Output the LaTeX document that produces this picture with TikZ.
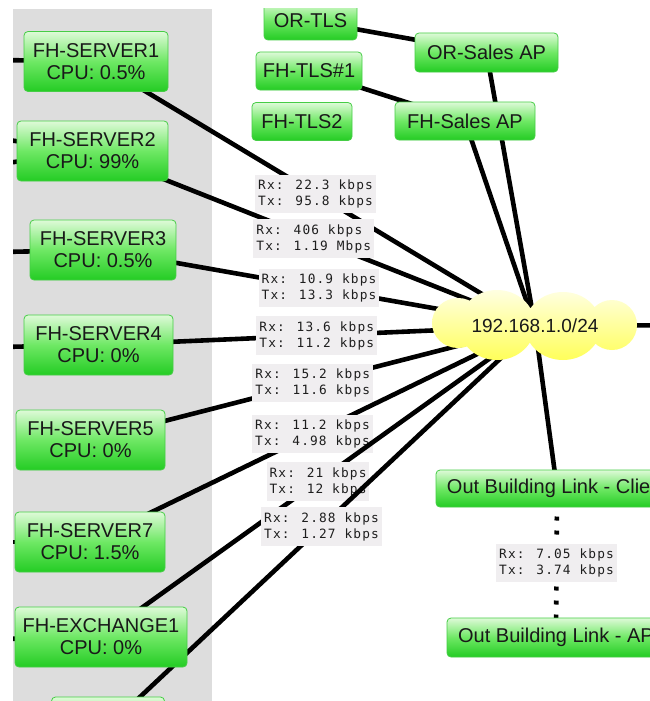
\documentclass[tikz,border=0pt]{standalone}
\usepackage{fontspec}
\setmainfont{Liberation Sans}
\newfontfamily\lblfont[LetterSpace=9]{DejaVu Sans Mono}
\usetikzlibrary{calc}
\pgfdeclarelayer{panel}
\pgfdeclarelayer{edges}
\pgfsetlayers{panel,edges,main}
\definecolor{gtop}{RGB}{222,250,216}
\definecolor{gmid}{RGB}{110,232,100}
\definecolor{gbot}{RGB}{36,204,36}
\definecolor{gedge}{RGB}{70,205,70}
\definecolor{panelgray}{RGB}{221,221,221}
\definecolor{lblbg}{RGB}{240,238,240}
\definecolor{lbltext}{RGB}{30,30,30}
\definecolor{ytop}{RGB}{255,255,235}
\definecolor{ybot}{RGB}{255,255,80}
\definecolor{ink}{RGB}{25,25,25}
\tikzset{
  box/.style={rounded corners=4pt, draw=gedge, line width=0.8pt,
    top color=gtop, bottom color=gbot, middle color=gmid, text=ink,
    font=\fontsize{20}{22}\selectfont, align=center, inner xsep=0pt, inner ysep=0pt},
  srv/.style={box, minimum height=60pt},
  tls/.style={box, minimum height=38pt},
  lbl/.style={fill=lblbg, text=lbltext, font=\lblfont\fontsize{12.8}{16}\selectfont,
    align=left, inner xsep=3pt, inner ysep=5pt},
  link/.style={line width=4.6pt, black},
}
\begin{document}
\begin{tikzpicture}[x=1pt,y=-1pt]
\useasboundingbox (0,0) rectangle (650,701);
\begin{pgfonlayer}{panel}
  \fill[white] (0,0) rectangle (650,701);
  \fill[panelgray] (13,9) rectangle (212,701);
\end{pgfonlayer}

\begin{scope}
\clip (13,9) rectangle (650,701);
% nodes
\node[srv, minimum width=144pt] (s1) at (96,61.5) {FH-SERVER1\\CPU: 0.5\%};
\node[srv, minimum width=151pt] (s2) at (92.5,151) {FH-SERVER2\\CPU: 99\%};
\node[srv, minimum width=146pt] (s3) at (103,250) {FH-SERVER3\\CPU: 0.5\%};
\node[srv, minimum width=149pt] (s4) at (98.5,345) {FH-SERVER4\\CPU: 0\%};
\node[srv, minimum width=149pt] (s5) at (90.5,440) {FH-SERVER5\\CPU: 0\%};
\node[srv, minimum width=150pt] (s7) at (90,542) {FH-SERVER7\\CPU: 1.5\%};
\node[srv, minimum width=172pt] (ex1) at (101,637) {FH-EXCHANGE1\\CPU: 0\%};
\node[srv, minimum width=113pt] (s8) at (108,727) {};

\node[tls, minimum width=93pt] (ortls) at (310.5,21) {OR-TLS};
\node[tls, minimum width=106pt] (fhtls1) at (309,71) {FH-TLS\#1};
\node[tls, minimum width=100pt] (fhtls2) at (302,121.5) {FH-TLS2};
\node[tls, minimum width=143pt, minimum height=39pt] (orsales) at (486.5,52.5) {OR-Sales AP};
\node[tls, minimum width=140pt] (fhsales) at (465,121) {FH-Sales AP};
\node[tls, minimum width=242pt, minimum height=37pt] (client) at (557,488.5) {Out Building Link - Client};
\node[tls, minimum width=218pt, minimum height=39pt] (ap) at (556,637.5) {Out Building Link - AP};

% cloud
\begin{scope}
\clip (458,323) ellipse [x radius=26pt, y radius=25pt]
      (497,325) ellipse [x radius=38pt, y radius=35pt]
      (563,326) ellipse [x radius=38pt, y radius=34pt]
      (612,325) ellipse [x radius=25pt, y radius=25pt];
\shade[top color=ytop, bottom color=ybot] (425,285) rectangle (645,365);
\end{scope}
\node[font=\fontsize{19}{22}\selectfont, text=ink] (net) at (535,326) {192.168.1.0/24};
\end{scope}

\begin{pgfonlayer}{edges}
\begin{scope}
\clip (13,9) rectangle (650,701);
\coordinate (w1) at (0,60);
\coordinate (w2a) at (0,139);
\coordinate (w2b) at (0,164);
\coordinate (w3) at (0,252);
\coordinate (w4) at (0,347);
\coordinate (w7) at (0,542);
\coordinate (wx) at (0,639);
\coordinate (east) at (700,325);
\draw[link] (w1) -- (s1.center);
\draw[link] (w2a) -- (s2.center);
\draw[link] (w2b) -- (s2.center);
\draw[link] (w3) -- (s3.center);
\draw[link] (w4) -- (s4.center);
\draw[link] (w7) -- (s7.center);
\draw[link] (wx) -- (ex1.center);

\draw[link] (ortls.center) -- (orsales.center);
\draw[link] (fhtls1.center) -- (fhsales.center);
\draw[link] (orsales.center) -- (net.center);
\draw[link] (fhsales.center) -- (net.center);

\draw[link] (s1.center) -- node[lbl] {Rx: 22.3 kbps\\Tx: 95.8 kbps} (net.center);
\draw[link] (s2.center) -- node[lbl] {Rx: 406 kbps\\Tx: 1.19 Mbps} (net.center);
\draw[link] (s3.center) -- node[lbl] {Rx: 10.9 kbps\\Tx: 13.3 kbps} (net.center);
\draw[link] (s4.center) -- node[lbl] {Rx: 13.6 kbps\\Tx: 11.2 kbps} (net.center);
\draw[link] (s5.center) -- node[lbl] {Rx: 15.2 kbps\\Tx: 11.6 kbps} (net.center);
\draw[link] (s7.center) -- node[lbl] {Rx: 11.2 kbps\\Tx: 4.98 kbps} (net.center);
\draw[link] (ex1.center) -- node[lbl] {Rx: 21 kbps\\Tx: 12 kbps} (net.center);
\draw[link] (s8.center) -- node[lbl] {Rx: 2.88 kbps\\Tx: 1.27 kbps} (net.center);

\draw[link] (net.center) -- (east);
\draw[link] (net.center) -- (client.center);
\draw[link, dash pattern=on 4pt off 10pt] (client.center) -- node[lbl] {Rx: 7.05 kbps\\Tx: 3.74 kbps} (ap.center);
\end{scope}
\end{pgfonlayer}
\end{tikzpicture}
\end{document}
